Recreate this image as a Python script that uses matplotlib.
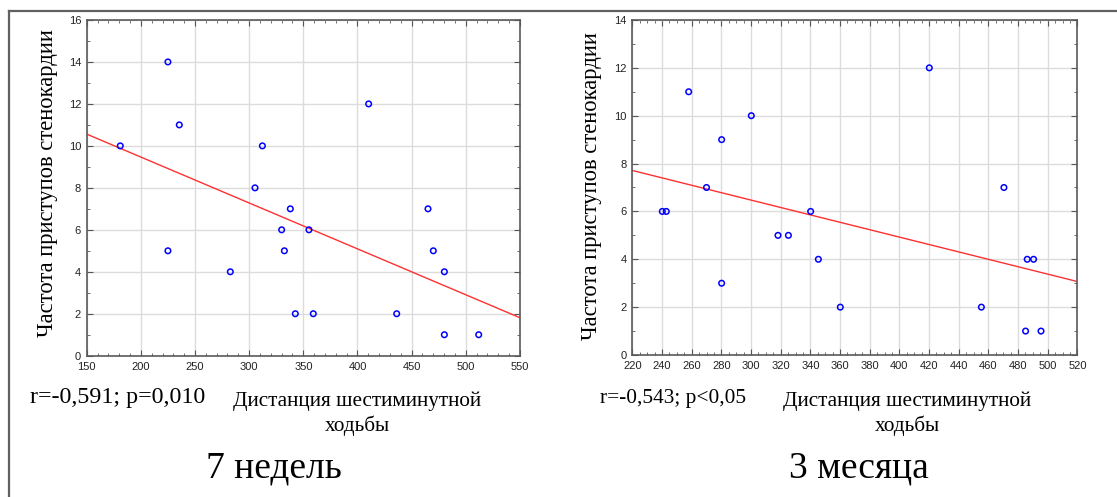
import numpy as np
import matplotlib
matplotlib.use("Agg")
import matplotlib.pyplot as plt
from matplotlib.ticker import MultipleLocator, AutoMinorLocator
from matplotlib.lines import Line2D

# 7 weeks: six-minute walk distance vs. angina attack frequency
dist_7w = [181, 225, 235.5, 225, 282.6, 305.4, 312.2, 338, 330, 355.2,
           332.5, 342.6, 359.2, 410.3, 436.2, 465.1, 470, 480.2, 480.2, 511.9]
attacks_7w = [10, 14, 11, 5, 4, 8, 10, 7, 6, 6,
              5, 2, 2, 12, 2, 7, 5, 4, 1, 1]

# 3 months
dist_3m = [240.2, 242.9, 258, 270, 280.2, 280.2, 300.2, 318.2, 325.2, 340.2,
           345.4, 360.2, 420.2, 455.3, 470.5, 485.1, 486.2, 490.5, 495.5]
attacks_3m = [6, 6, 11, 7, 9, 3, 10, 5, 5, 6,
              4, 2, 12, 2, 7, 1, 4, 4, 1]

stats_labels = ["r=-0,591; p=0,010", "r=-0,543; p<0,05"]
period_labels = ["7 недель", "3 месяца"]
ylabel = "Частота приступов стенокардии"
xlabel = "Дистанция шестиминутной\nходьбы"

serif = ["Liberation Serif", "DejaVu Serif"]
sans = ["Liberation Sans", "DejaVu Sans"]

fig = plt.figure(figsize=(11.17, 4.97), dpi=100)

panels = [
    dict(x=dist_7w, y=attacks_7w, rect=[0.0776, 0.2843, 0.3879, 0.6755],
         xlim=(150, 550), xmaj=50, xminor=5, ylim=(0, 16)),
    dict(x=dist_3m, y=attacks_3m, rect=[0.5661, 0.2857, 0.3984, 0.6741],
         xlim=(220, 520), xmaj=20, xminor=4, ylim=(0, 14)),
]

for p in panels:
    ax = fig.add_axes(p["rect"])
    x = np.asarray(p["x"], float)
    y = np.asarray(p["y"], float)
    ax.set_xlim(*p["xlim"])
    ax.set_ylim(*p["ylim"])
    ax.xaxis.set_major_locator(MultipleLocator(p["xmaj"]))
    ax.xaxis.set_minor_locator(AutoMinorLocator(p["xminor"]))
    ax.yaxis.set_major_locator(MultipleLocator(2))
    ax.yaxis.set_minor_locator(AutoMinorLocator(2))
    ax.grid(True, which="major", color="#dcdcdc", linewidth=1.0, zorder=0)
    ax.set_axisbelow(True)
    for s in ax.spines.values():
        s.set_color("#5a5a5a")
        s.set_linewidth(1.2)
    ax.tick_params(which="both", direction="in", top=True, right=True,
                   color="#555555")
    ax.tick_params(which="major", length=4, width=0.8, labelsize=8,
                   labelcolor="#222222")
    ax.tick_params(axis="x", which="major", pad=4.5)
    ax.tick_params(axis="y", which="major", pad=4)
    ax.tick_params(which="minor", length=2, width=0.6)
    for lab in ax.get_xticklabels() + ax.get_yticklabels():
        lab.set_family(sans)

    ax.scatter(x, y, s=16, facecolors="none", edgecolors="#0000ff",
               linewidths=1.1, zorder=3)
    slope, intercept = np.polyfit(x, y, 1)
    xs = np.array(p["xlim"], float)
    ax.plot(xs, intercept + slope * xs, color="#ff3030", linewidth=1.0,
            zorder=2)

# y-axis titles
fig.text(48 / 1117, 1 - 183 / 497, ylabel, rotation=90, ha="center",
         va="center", fontsize=16.3, family=serif)
fig.text(591 / 1117, 1 - 186 / 497, ylabel, rotation=90, ha="center",
         va="center", fontsize=16.3, family=serif)

# statistics, x-axis titles and period captions
for cx_stat, fs_stat, cx_lab, cx_period, st, per in [
        (30, 17.3, 357, 274, stats_labels[0], period_labels[0]),
        (600, 15.4, 907, 859, stats_labels[1], period_labels[1])]:
    fig.text(cx_stat / 1117, 1 - 398 / 497, st, ha="left", va="center",
             fontsize=fs_stat, family=serif)
    fig.text(cx_lab / 1117, 1 - 414 / 497, xlabel, ha="center",
             va="center", fontsize=15.3, family=serif, linespacing=1.32)
    fig.text(cx_period / 1117, 1 - 468 / 497, per, ha="center", va="center",
             fontsize=27, family=serif)

# slide frame (top and left edges)
fig.add_artist(Line2D([9 / 1117, 1.0], [1 - 11 / 497, 1 - 11 / 497],
                      color="#606060", linewidth=1.6))
fig.add_artist(Line2D([9 / 1117, 9 / 1117], [0.0, 1 - 11 / 497],
                      color="#606060", linewidth=1.6))

fig.savefig("out.png", dpi=100)
